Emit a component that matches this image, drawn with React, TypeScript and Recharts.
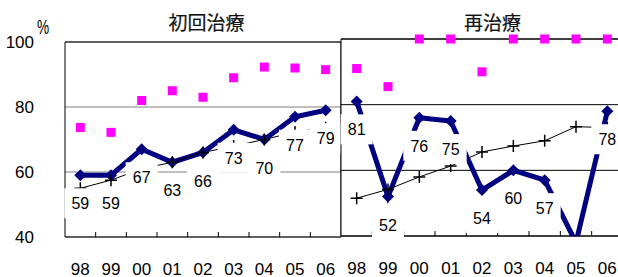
import { CartesianGrid, LabelList, Line, LineChart, ReferenceArea, XAxis, YAxis } from "recharts";

const years = ["98", "99", "00", "01", "02", "03", "04", "05", "06"];

// 初回治療
const firstBlue = [59, 59, 67, 63, 66, 73, 70, 77, 79];
const firstPink = [73.7, 72.2, 82, 85, 83, 89, 92.3, 92, 91.5];
const firstBlack = [55, 57.5, 61, 63, 66, 68, 70, 72.3, 73.6];

// 再治療
const againBlue = [81, 52, 76, 75, 54, 60, 57, 38, 78];
const againPink = [91, 85.5, 100, 100, 90, 100, 100, 100, 100];
const againBlack = [51.5, 54.2, 58, 61.3, 65.6, 67.4, 69, 73.3, 73];

const yTicks = [40, 60, 80, 100];

const NAVY = "#000080";
const PINK = "#ff00ff";
const FONT = '"Liberation Sans", Arial, sans-serif';

const buildRows = (blue: number[], pink: number[], black: number[]) =>
    years.map((year, i) => ({ year, blue: blue[i], pink: pink[i], black: black[i] }));

const firstRows = buildRows(firstBlue, firstPink, firstBlack);
const againRows = buildRows(againBlue, againPink, againBlack);

const Diamond = (p: any) => {
    const { cx, cy, index } = p;
    if (cx == null || cy == null) return <g key={`d-${index}`} />;
    return <path key={`d-${index}`} d={`M${cx},${cy - 6}L${cx + 6},${cy}L${cx},${cy + 6}L${cx - 6},${cy}Z`} fill={NAVY} />;
};

const Plus = (p: any) => {
    const { cx, cy, index } = p;
    if (cx == null || cy == null) return <g key={`p-${index}`} />;
    return <path key={`p-${index}`} d={`M${cx - 6},${cy}H${cx + 6}M${cx},${cy - 6}V${cy + 6}`} stroke="#000" strokeWidth={1.5} />;
};

const Square = (p: any) => {
    const { cx, cy, index } = p;
    if (cx == null || cy == null) return <g key={`s-${index}`} />;
    return <rect key={`s-${index}`} x={cx - 4.5} y={cy - 4.5} width={9} height={9} fill={PINK} />;
};

// data label with a white box under it, like the excel labels
const BoxLabel = (p: any) => {
    const x = p.x ?? p.viewBox?.x;
    const y = p.y ?? p.viewBox?.y;
    if (x == null || y == null || p.value < 40) return null;
    return (
        <g>
            <rect x={x - 16} y={y + 13} width={32} height={30} fill="#fff" />
            <text x={x} y={y + 28.5} textAnchor="middle" dominantBaseline="central" fontSize={16} fill="#000" fontFamily={FONT}>
                {p.value}
            </text>
        </g>
    );
};

const YearTick = (p: any) => {
    const { x, y, payload, index, visibleTicksCount, width } = p;
    const count = visibleTicksCount ?? years.length;
    const step = (width ?? 276) / count;
    return (
        <g>
            {index < count - 1 && (
                <line x1={x + step / 2} x2={x + step / 2} y1={y} y2={y - 5} stroke="#000" />
            )}
            <text x={x} y={y + 26} dy="0.71em" textAnchor="middle" fontSize={17} fill="#000" fontFamily={FONT}>
                {payload.value}
            </text>
        </g>
    );
};

const titleStyle = {
    position: "absolute" as const,
    top: 12,
    transform: "translateX(-50%)",
    fontSize: 19,
    lineHeight: 1,
    whiteSpace: "nowrap" as const,
    color: "#111",
    WebkitTextStroke: "0.2px #111",
    fontFamily: '"Noto Sans CJK JP", sans-serif',
};

const App = () => {
    return (
        <div style={{ position: "absolute", left: 0, top: 0, width: 618, height: 277, overflow: "hidden", background: "#fff", fontFamily: FONT }}>
            <div style={{ position: "absolute", left: 0, top: 0 }}>
                <LineChart width={341} height={277} data={firstRows} margin={{ top: 42, right: 0, bottom: 0, left: 0 }}>
                    <CartesianGrid vertical={false} stroke="#808080" />
                    <ReferenceArea y1={40} y2={100} fill="none" stroke="#000" ifOverflow="visible" />
                    <XAxis dataKey="year" scale="band" height={40} interval={0} axisLine={false} tickLine={false} tickSize={0} tickMargin={0} tick={<YearTick />} />
                    <YAxis domain={[40, 100]} ticks={yTicks} width={65} axisLine={false} tickLine={false} tickSize={0} tickMargin={31}
                        tick={{ fontSize: 17, fill: "#000", fontFamily: FONT }} />
                    <Line dataKey="blue" stroke={NAVY} strokeWidth={5} dot={Diamond} activeDot={false} isAnimationActive={false} />
                    <Line dataKey="black" stroke="#000" strokeWidth={1} dot={Plus} activeDot={false} isAnimationActive={false} />
                    <Line dataKey="pink" stroke="none" dot={Square} activeDot={false} isAnimationActive={false} />
                    <Line dataKey="blue" stroke="none" dot={false} activeDot={false} isAnimationActive={false}>
                        <LabelList dataKey="blue" content={BoxLabel} />
                    </Line>
                </LineChart>
            </div>
            <div style={{ position: "absolute", left: 330, top: 0 }}>
                <LineChart width={293} height={277} data={againRows} margin={{ top: 39, right: 0, bottom: 0, left: 11 }}>
                    <CartesianGrid vertical={false} stroke="#000" />
                    <ReferenceArea y1={40} y2={100} fill="none" stroke="#000" ifOverflow="visible" />
                    <XAxis dataKey="year" scale="band" height={41} interval={0} axisLine={false} tickLine={false} tickSize={0} tickMargin={0} tick={<YearTick />} />
                    <YAxis domain={[40, 100]} ticks={yTicks} hide />
                    <YAxis yAxisId="clip" domain={[40, 100]} allowDataOverflow hide />
                    <Line yAxisId="clip" dataKey="blue" stroke={NAVY} strokeWidth={5} dot={Diamond} activeDot={false} isAnimationActive={false} />
                    <Line dataKey="black" stroke="#000" strokeWidth={1} dot={Plus} activeDot={false} isAnimationActive={false} />
                    <Line dataKey="pink" stroke="none" dot={Square} activeDot={false} isAnimationActive={false} />
                    <Line yAxisId="clip" dataKey="blue" stroke="none" dot={false} activeDot={false} isAnimationActive={false}>
                        <LabelList dataKey="blue" content={BoxLabel} />
                    </Line>
                </LineChart>
            </div>
            <div style={{ ...titleStyle, left: 206.5 }}>初回治療</div>
            <div style={{ ...titleStyle, left: 492.5 }}>再治療</div>
            <div style={{ position: "absolute", left: 37, top: 15.5, fontSize: 21, lineHeight: 1, transform: "scaleX(0.65)", transformOrigin: "left top" }}>
                %
            </div>
        </div>
    );
};

export default App;
